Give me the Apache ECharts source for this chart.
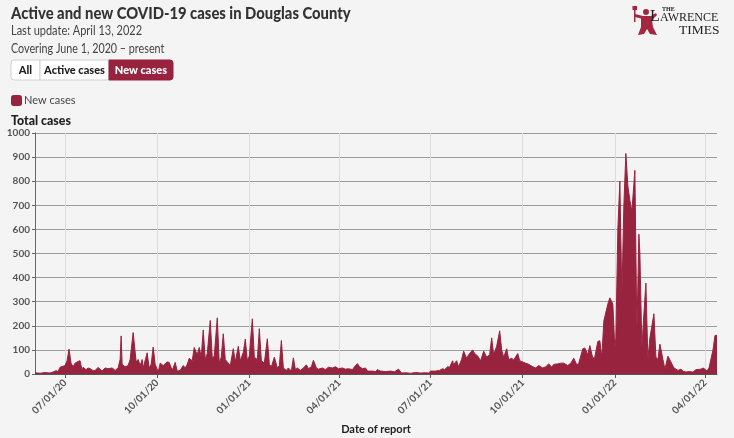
<!DOCTYPE html>
<html>
<head>
<meta charset="utf-8">
<script src="https://cdn.jsdelivr.net/npm/echarts@6/dist/echarts.min.js"></script>
<style>
html,body{margin:0;padding:0;background:#f4f4f4;}
#c{width:734px;height:438px;}
</style>
</head>
<body>
<div id="c"></div>
<script>
// ---- data ----
const startDate = '2020-06-01';
const endDate = '2022-04-13';
const tickDates = ['2020-07-01','2020-10-01','2021-01-01','2021-04-01','2021-07-01','2021-10-01','2022-01-01','2022-04-01'];
const yMin = 0, yMax = 1000, yStep = 100;
const seriesName = 'New cases';

const dates = [
'2020-06-01','2020-06-06','2020-06-11','2020-06-16','2020-06-19','2020-06-22','2020-06-24','2020-06-26','2020-06-29',
'2020-07-01','2020-07-03','2020-07-05','2020-07-07','2020-07-09','2020-07-11','2020-07-14','2020-07-16','2020-07-18','2020-07-19','2020-07-22','2020-07-24','2020-07-26','2020-07-29','2020-07-31',
'2020-08-03','2020-08-07','2020-08-10','2020-08-13','2020-08-17','2020-08-20','2020-08-23','2020-08-25','2020-08-26','2020-08-27','2020-08-30',
'2020-09-02','2020-09-04','2020-09-07','2020-09-10','2020-09-12','2020-09-14','2020-09-16','2020-09-17','2020-09-21','2020-09-23','2020-09-25','2020-09-27','2020-09-29','2020-09-30',
'2020-10-02','2020-10-04','2020-10-07','2020-10-11','2020-10-13','2020-10-16','2020-10-19','2020-10-21','2020-10-24','2020-10-27','2020-10-29','2020-10-31',
'2020-11-02','2020-11-05','2020-11-07','2020-11-10','2020-11-12','2020-11-14','2020-11-16','2020-11-18','2020-11-20','2020-11-23','2020-11-25','2020-11-27','2020-11-30',
'2020-12-02','2020-12-04','2020-12-06','2020-12-08','2020-12-10','2020-12-13','2020-12-16','2020-12-18','2020-12-21','2020-12-23','2020-12-26','2020-12-28','2020-12-30',
'2021-01-01','2021-01-04','2021-01-06','2021-01-09','2021-01-11','2021-01-13','2021-01-16','2021-01-19','2021-01-21','2021-01-23','2021-01-26','2021-01-29','2021-01-31',
'2021-02-02','2021-02-04','2021-02-07','2021-02-09','2021-02-12','2021-02-14','2021-02-16','2021-02-18','2021-02-21','2021-02-24','2021-02-27',
'2021-03-01','2021-03-04','2021-03-06','2021-03-09','2021-03-11','2021-03-15','2021-03-18','2021-03-21','2021-03-25','2021-03-28','2021-03-31',
'2021-04-04','2021-04-07','2021-04-10','2021-04-14','2021-04-16','2021-04-19','2021-04-21','2021-04-24','2021-04-27','2021-04-29',
'2021-05-04','2021-05-07','2021-05-09','2021-05-12','2021-05-17','2021-05-22','2021-05-26','2021-05-30',
'2021-06-02','2021-06-06','2021-06-11','2021-06-16','2021-06-21','2021-06-26','2021-06-29',
'2021-07-01','2021-07-06','2021-07-10','2021-07-13','2021-07-15','2021-07-18','2021-07-20','2021-07-23','2021-07-24','2021-07-27','2021-07-29',
'2021-08-01','2021-08-03','2021-08-06','2021-08-08','2021-08-12','2021-08-14','2021-08-17','2021-08-20','2021-08-23','2021-08-26','2021-08-29','2021-08-31',
'2021-09-02','2021-09-05','2021-09-08','2021-09-10','2021-09-12','2021-09-15','2021-09-17','2021-09-20','2021-09-22','2021-09-26','2021-09-28',
'2021-10-01','2021-10-04','2021-10-07','2021-10-11','2021-10-14','2021-10-17','2021-10-21','2021-10-24','2021-10-27','2021-10-30',
'2021-11-01','2021-11-05','2021-11-08','2021-11-11','2021-11-15','2021-11-18','2021-11-21','2021-11-24','2021-11-26','2021-11-30',
'2021-12-02','2021-12-05','2021-12-07','2021-12-10','2021-12-12','2021-12-15','2021-12-17','2021-12-19','2021-12-21','2021-12-25','2021-12-27','2021-12-30',
'2022-01-01','2022-01-02','2022-01-04','2022-01-06','2022-01-08','2022-01-10','2022-01-12','2022-01-14','2022-01-16','2022-01-18','2022-01-21','2022-01-23','2022-01-25','2022-01-26','2022-01-28','2022-01-30',
'2022-02-01','2022-02-03','2022-02-05','2022-02-09','2022-02-11','2022-02-13','2022-02-15','2022-02-18','2022-02-20','2022-02-23','2022-02-26',
'2022-03-01','2022-03-05','2022-03-08','2022-03-10','2022-03-13','2022-03-16','2022-03-17','2022-03-20','2022-03-23','2022-03-28','2022-03-30',
'2022-04-01','2022-04-03','2022-04-05','2022-04-09','2022-04-11','2022-04-13'
];

const newCases = [
5,3,6,4,8,14,10,28,32,
35,55,103,45,30,45,52,55,15,28,18,25,22,14,15,
27,12,25,22,25,15,25,60,158,40,30,
35,60,172,50,60,35,60,25,88,25,40,112,40,30,
8,45,35,50,48,15,48,12,15,35,25,40,
65,55,110,80,110,70,183,60,85,222,65,75,233,
45,70,167,60,50,35,105,50,115,55,90,145,55,
75,229,70,60,188,55,45,146,40,30,70,25,35,
139,25,15,25,12,67,18,25,15,25,38,
22,30,57,25,20,25,18,28,25,30,22,
25,20,22,18,30,43,30,22,25,12,
12,10,18,12,10,12,9,20,
4,5,3,6,4,5,4,
12,12,15,22,18,30,28,55,38,55,30,
60,95,65,80,100,85,75,55,95,70,80,150,
80,115,179,100,70,105,60,65,58,85,55,
50,45,40,30,25,35,25,30,42,28,
40,42,45,45,35,45,65,38,45,105,
108,80,118,65,70,135,138,70,220,290,316,290,
105,150,600,800,320,700,915,780,720,675,845,168,580,500,110,250,
377,60,150,250,70,60,124,60,20,74,50,
25,15,20,12,8,10,15,8,18,20,25,
20,12,25,100,160,160
];

// ---- helpers ----
function toTime(s){ const p = s.split('-').map(Number); return new Date(p[0], p[1]-1, p[2]).getTime(); }
function pad(n){ return (n < 10 ? '0' : '') + n; }
function fmt(t){ const d = new Date(t); return pad(d.getMonth()+1) + '/' + pad(d.getDate()) + '/' + String(d.getFullYear()).slice(2); }

const MAROON = '#98233f';
const FONT = 'Lato';
const tickTimes = tickDates.map(toTime);

const chart = echarts.init(document.getElementById('c'), null, {renderer:'canvas'});

const option = {
  backgroundColor: '#f4f4f4',
  animation: false,
  textStyle: {fontFamily: FONT},
  grid: {left: 35, right: 17, top: 133, bottom: 64, containLabel: false, outerBoundsMode: 'none'},
  legend: {
    data: [seriesName], left: 6, top: 90, itemWidth: 11, itemHeight: 11, icon: 'roundRect',
    textStyle: {fontSize: 11, color: '#444', fontFamily: FONT, padding: [0, 0, 0, -3]}
  },
  xAxis: {
    type: 'value',
    min: toTime(startDate), max: toTime(endDate),
    axisLine: {show: true, onZero: false, lineStyle: {color: '#555'}},
    axisTick: {show: true, customValues: tickTimes, length: 4, lineStyle: {color: '#555'}},
    axisLabel: {customValues: tickTimes, formatter: v => fmt(v), rotate: 45, color: '#555',
      fontWeight: 'bold', fontSize: 10, fontFamily: FONT, margin: 7},
    splitLine: {show: true, lineStyle: {color: '#dcdcdc', width: 1}},
    name: 'Date of report', nameLocation: 'middle', nameGap: 50,
    nameTextStyle: {fontSize: 11, fontWeight: 'bold', color: '#222', fontFamily: FONT}
  },
  yAxis: {
    type: 'value', min: yMin, max: yMax, interval: yStep,
    axisLine: {show: true, lineStyle: {color: '#666'}},
    axisTick: {show: true, length: 3, lineStyle: {color: '#666'}},
    axisLabel: {color: '#555', fontWeight: 'bold', fontSize: 10, fontFamily: FONT, margin: 5, formatter: v => String(v)},
    splitLine: {show: true, lineStyle: {color: '#9c9c9c', width: 1}}
  },
  series: [{
    name: seriesName, type: 'line',
    data: dates.map((d, i) => [toTime(d), newCases[i]]),
    symbol: 'none', smooth: false,
    lineStyle: {color: MAROON, width: 1},
    itemStyle: {color: MAROON},
    areaStyle: {color: MAROON, opacity: 1}
  }],
  graphic: [
    {type: 'text', x: 11, y: 4, scaleX: 0.845, style: {text: 'Active and new COVID-19 cases in Douglas County', fontFamily: FONT, fontWeight: 900, fontSize: 17.5, fill: '#333'}},
    {type: 'text', x: 11, y: 24, scaleX: 0.88, style: {text: 'Last update: April 13, 2022', fontFamily: FONT, fontSize: 12.5, fill: '#444'}},
    {type: 'text', x: 11, y: 42, scaleX: 0.86, style: {text: 'Covering June 1, 2020 \u2013 present', fontFamily: FONT, fontSize: 12.5, fill: '#444'}},
    // buttons
    {type: 'rect', shape: {x: 11, y: 60, width: 29, height: 20, r: [3,0,0,3]}, style: {fill: '#fff', stroke: '#d0d0d0', lineWidth: 1}},
    {type: 'rect', shape: {x: 40, y: 60, width: 69, height: 20}, style: {fill: '#fff', stroke: '#d0d0d0', lineWidth: 1}},
    {type: 'rect', shape: {x: 109, y: 60, width: 64, height: 20, r: [0,3,3,0]}, style: {fill: MAROON, stroke: MAROON, lineWidth: 1}},
    {type: 'text', x: 25.5, y: 70, style: {text: 'All', fontFamily: FONT, fontWeight: 900, fontSize: 11, fill: '#222', align: 'center', verticalAlign: 'middle'}},
    {type: 'text', x: 74.5, y: 70, style: {text: 'Active cases', fontFamily: FONT, fontWeight: 900, fontSize: 11, fill: '#222', align: 'center', verticalAlign: 'middle'}},
    {type: 'text', x: 141, y: 70, style: {text: 'New cases', fontFamily: FONT, fontWeight: 900, fontSize: 11, fill: '#fff', align: 'center', verticalAlign: 'middle'}},
    {type: 'text', x: 11, y: 114, scaleX: 0.95, style: {text: 'Total cases', fontFamily: FONT, fontWeight: 900, fontSize: 13, fill: '#222'}},
    // logo
    {type: 'group', children: [
      {type: 'rect', shape: {x: 634, y: 7, width: 1.5, height: 15}, style: {fill: '#a3273f'}},
      {type: 'rect', shape: {x: 632.5, y: 6, width: 4.5, height: 4}, style: {fill: '#a3273f'}},
      {type: 'polygon', shape: {points: [[635,14],[643,16],[643,19],[635,17]]}, style: {fill: '#a3273f'}},
      {type: 'circle', shape: {cx: 646, cy: 12, r: 3}, style: {fill: '#a3273f'}},
      {type: 'polygon', shape: {points: [[641,16],[651,16],[656,13],[657,15],[652,20],[653,27],[657,35],[650,34],[647,29],[644,34],[638,35],[641,27]]}, style: {fill: '#a3273f'}},
      {type: 'text', x: 662, y: 6, style: {text: 'THE', fontFamily: 'Liberation Serif', fontWeight: 'bold', fontSize: 6, fill: '#222'}},
      {type: 'text', x: 650, y: 9, style: {text: 'L', fontFamily: 'Liberation Serif', fontSize: 16, fill: '#222'}},
      {type: 'text', x: 660, y: 12, style: {text: 'AWRENCE', fontFamily: 'Liberation Serif', fontSize: 12, fill: '#222'}},
      {type: 'text', x: 679, y: 23, style: {text: 'TIMES', fontFamily: 'Liberation Serif', fontSize: 13.5, fill: '#222'}}
    ]}
  ]
};
chart.setOption(option);
</script>
</body>
</html>
